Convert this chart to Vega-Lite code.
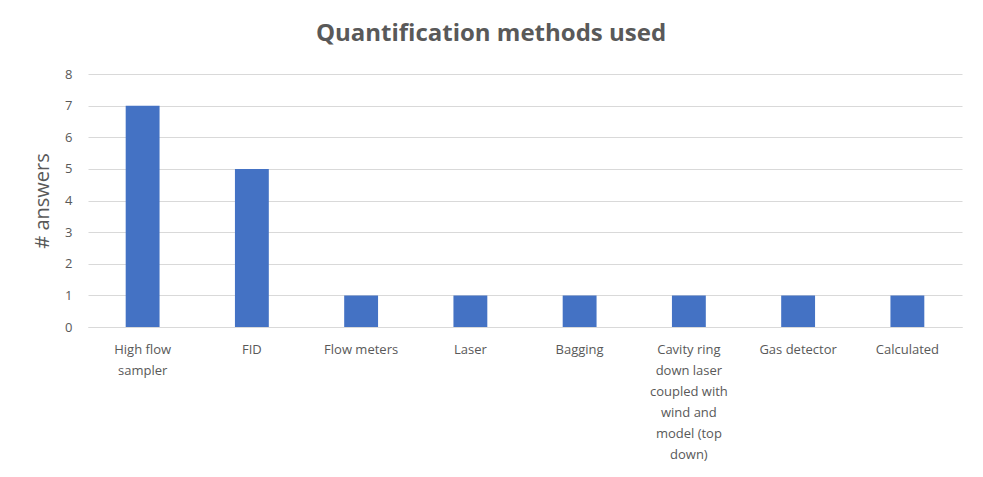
{
  "$schema": "https://vega.github.io/schema/vega-lite/v6.json",
  "autosize": {"type": "none"},
  "padding": {"left": 88, "top": 74, "right": 21, "bottom": 150},
  "width": 874,
  "height": 253,
  "background": "white",
  "title": {
    "text": "Quantification methods used",
    "font": "Open Sans",
    "fontSize": 24,
    "fontWeight": "bold",
    "color": "#595959",
    "anchor": "middle",
    "dx": -34,
    "offset": 22
  },
  "data": {
    "values": [
      {"method": "High flow|sampler", "answers": 7},
      {"method": "FID", "answers": 5},
      {"method": "Flow meters", "answers": 1},
      {"method": "Laser", "answers": 1},
      {"method": "Bagging", "answers": 1},
      {"method": "Cavity ring|down laser|coupled with|wind and|model (top|down)", "answers": 1},
      {"method": "Gas detector", "answers": 1},
      {"method": "Calculated", "answers": 1}
    ]
  },
  "mark": {"type": "bar", "color": "#4472C4"},
  "encoding": {
    "x": {
      "field": "method",
      "type": "nominal",
      "sort": null,
      "scale": {"paddingInner": 0.69, "paddingOuter": 0.345},
      "axis": {
        "title": null,
        "labelAngle": 0,
        "labelExpr": "split(datum.label, '|')",
        "labelFont": "Open Sans",
        "labelFontSize": 13,
        "labelColor": "#595959",
        "labelLineHeight": 21,
        "labelPadding": 16,
        "ticks": false,
        "domainColor": "#D9D9D9",
        "domainWidth": 1,
        "labelLimit": 200
      }
    },
    "y": {
      "field": "answers",
      "type": "quantitative",
      "scale": {"domain": [0, 8]},
      "axis": {
        "title": "# answers",
        "titleFont": "Open Sans",
        "titleFontSize": 20,
        "titleFontWeight": "normal",
        "titleColor": "#595959",
        "titlePadding": 12,
        "values": [0, 1, 2, 3, 4, 5, 6, 7, 8],
        "labelFont": "Open Sans",
        "labelFontSize": 13,
        "labelColor": "#595959",
        "labelPadding": 16,
        "ticks": false,
        "domain": false,
        "gridColor": "#D9D9D9",
        "gridWidth": 1
      }
    }
  },
  "config": {"view": {"stroke": null}}
}
